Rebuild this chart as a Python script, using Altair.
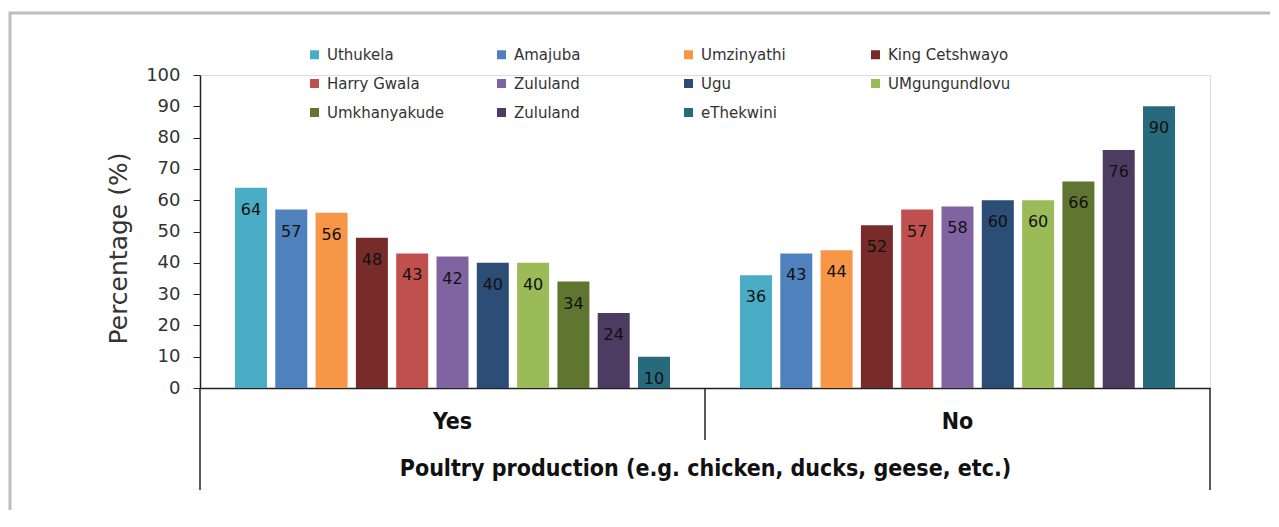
import altair as alt
import pandas as pd

groups = ["Yes", "No"]
series = ["Uthukela", "Amajuba", "Umzinyathi", "King Cetshwayo", "Harry Gwala",
          "Zululand", "Ugu", "UMgungundlovu", "Umkhanyakude", "Zululand", "eThekwini"]
yes_values = [64, 57, 56, 48, 43, 42, 40, 40, 34, 24, 10]
no_values = [36, 43, 44, 52, 57, 58, 60, 60, 66, 76, 90]
colors = ["#4BACC6", "#4F81BD", "#F79646", "#772C2A", "#C0504D", "#8064A2",
          "#2C4D75", "#9BBB59", "#5F7530", "#4D3B62", "#276A7C"]
y_ticks = [0, 10, 20, 30, 40, 50, 60, 70, 80, 90, 100]
x_title = "Poultry production (e.g. chicken, ducks, geese, etc.)"
y_title = "Percentage (%)"

keys = [f"{i + 1:02d} {s}" for i, s in enumerate(series)]
rows = []
for g, vals in zip(groups, [yes_values, no_values]):
    for k, v in zip(keys, vals):
        rows.append({"group": g, "key": k, "value": v})
df = pd.DataFrame(rows)

# legend is filled column by column: reorder so it reads row by row (4 columns, 3 rows)
n_cols, n_rows = 4, 3
legend_idx = [r * n_cols + c for c in range(n_cols) for r in range(n_rows)
              if r * n_cols + c < len(keys)]
legend_keys = [keys[i] for i in legend_idx]
legend_colors = [colors[i] for i in legend_idx]

W, H = 1010, 313
NARROW = "Liberation Sans Narrow, DejaVu Sans Condensed, sans-serif"
SANS = "DejaVu Sans, Liberation Sans, sans-serif"

x_enc = alt.X(
    "group:N", sort=groups,
    scale=alt.Scale(paddingInner=0, paddingOuter=0),
    axis=alt.Axis(
        title=x_title, labelAngle=0, labelFont=NARROW, labelFontSize=23,
        labelFontWeight="bold", labelColor="#111", labelPadding=22,
        ticks=False, domain=True, domainColor="#222", domainWidth=1.5,
        titleFont=NARROW, titleFontSize=23, titleFontWeight="bold",
        titleColor="#111", titleBaseline="middle", titleY=80,
    ),
)
xo_enc = alt.XOffset("key:N", sort=keys,
                     scale=alt.Scale(paddingInner=0.206, paddingOuter=0.868))
y_enc = alt.Y(
    "value:Q",
    scale=alt.Scale(domain=[0, 100], nice=False),
    axis=alt.Axis(
        title=y_title, values=y_ticks, labelOverlap=False, grid=False,
        tickSize=7, tickColor="#222", domainColor="#222", domainWidth=1.5,
        labelFont=SANS, labelFontSize=18, labelColor="#333", labelPadding=13,
        titleFont=SANS, titleFontSize=25, titleFontWeight="normal",
        titleColor="#333", titleX=-82, titleY=173, titleAlign="center",
        titleBaseline="middle", titleAngle=270,
    ),
)

base = alt.Chart(df)

bars = base.mark_bar().encode(
    x=x_enc,
    xOffset=xo_enc,
    y=y_enc,
    color=alt.Color(
        "key:N",
        scale=alt.Scale(domain=legend_keys, range=legend_colors),
        legend=alt.Legend(
            title=None, orient="none", legendX=107, legendY=-28, columns=4,
            gridAlign="all", columnPadding=44, rowPadding=13, padding=0,
            symbolType="square", symbolSize=81, symbolStrokeWidth=0,
            labelFont=SANS, labelFontSize=15, labelColor="#333", labelOffset=5,
            labelExpr="slice(datum.value, 3)", labelLimit=300,
        ),
    ),
)

labels = base.mark_text(baseline="middle", dy=22, font=SANS, fontSize=16,
                        color="#111").encode(
    x=x_enc,
    xOffset=xo_enc,
    y=y_enc,
    text=alt.Text("value:Q"),
)

rule_df_yes = pd.DataFrame({"group": ["Yes"]})
rule_df_no = pd.DataFrame({"group": ["No"]})

rule_left = alt.Chart(rule_df_yes).mark_rule(color="#222", strokeWidth=1.5).encode(
    x=alt.X("group:N", sort=groups, bandPosition=0),
    y=alt.value(H), y2=alt.value(H + 102),
)
rule_mid = alt.Chart(rule_df_no).mark_rule(color="#222", strokeWidth=1.5).encode(
    x=alt.X("group:N", sort=groups, bandPosition=0),
    y=alt.value(H), y2=alt.value(H + 52),
)
rule_right = alt.Chart(rule_df_no).mark_rule(color="#222", strokeWidth=1.5).encode(
    x=alt.X("group:N", sort=groups, bandPosition=1),
    y=alt.value(H), y2=alt.value(H + 102),
)

border = alt.Chart(pd.DataFrame({"a": [0]})).mark_rect(
    fill="transparent", stroke="#BDBDBD", strokeWidth=3
).encode(
    x=alt.value(-190), x2=alt.value(W + 200),
    y=alt.value(-62), y2=alt.value(H + 300),
)

chart = alt.layer(border, bars, labels, rule_left, rule_mid, rule_right).properties(
    width=W, height=H,
    autosize=alt.AutoSizeParams(type="none"),
    padding={"left": 192, "top": 67, "right": 60, "bottom": 122},
).configure_view(stroke=None).configure(background="white")

chart.save("out.html", embed_options={"renderer": "svg", "actions": False})
